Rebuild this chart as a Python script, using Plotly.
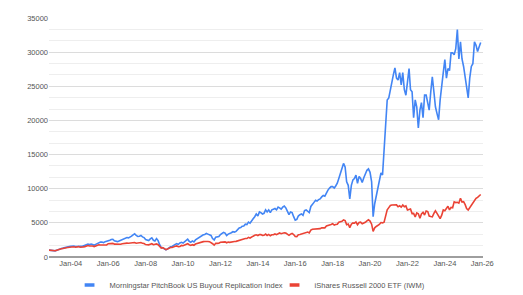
import pandas as pd
import plotly.graph_objects as go

# Monthly dates Nov 2002 .. Dec 2025
dates = pd.date_range("2002-11-01", "2025-12-01", freq="MS")

buyout_index = [
    1000, 960,
    920, 890, 900, 1000, 1120, 1200, 1250, 1300, 1330, 1420, 1460, 1520,
    1580, 1620, 1600, 1530, 1560, 1640, 1560, 1550, 1620, 1680, 1820, 1880,
    1820, 1900, 1840, 1720, 1850, 1950, 2150, 2200, 2180, 2100, 2250, 2280,
    2400, 2450, 2550, 2600, 2380, 2300, 2250, 2350, 2450, 2600, 2750, 2800,
    2850, 2800, 2900, 3050, 3250, 3400, 3150, 3000, 3050, 3150, 2950, 2850,
    2550, 2450, 2400, 2650, 2800, 2450, 2350, 2700, 2400, 1800, 1400, 1350,
    1200, 1050, 1150, 1400, 1500, 1550, 1750, 1850, 1950, 1850, 2050, 2150,
    2050, 2200, 2450, 2600, 2300, 2150, 2350, 2200, 2500, 2650, 2750, 3000,
    3100, 3250, 3300, 3450, 3350, 3250, 3150, 2700, 2500, 2900, 2900, 3000,
    3300, 3500, 3600, 3500, 3150, 3350, 3400, 3550, 3700, 3650, 3750, 4000,
    4250, 4300, 4500, 4550, 4800, 4750, 5100, 4950, 5400, 5600, 5900, 6300,
    6000, 6600, 6500, 6300, 6400, 6900, 6600, 6900, 6500, 6900, 7000, 7100,
    6900, 7300, 7200, 7000, 7300, 7450, 7200, 6600, 6200, 6600, 6500, 5900,
    5400, 5500, 6000, 6200, 6300, 6100, 6800, 6900, 6700, 6500, 7400, 7800,
    8000, 8300, 8200, 8400, 8500, 8800, 9000, 8900, 9400, 9800, 10100, 10300,
    10300, 10100, 10400, 10800, 11500, 12200, 12800, 13700, 13200, 11000, 10500, 8500,
    10500, 11300, 11500, 12000, 10800, 11800, 11500, 10900, 11600, 12300, 12700, 12900,
    12400, 11000, 5900, 7800, 8800, 9800, 10800, 12300, 12000, 15500, 18500, 23000,
    23300, 24500, 26000, 26700, 27700, 26200, 25900, 27000, 25200, 27000, 24500, 23700,
    25600, 27600, 24500, 24200, 20400, 23000, 22000, 18900, 21500, 22600, 20400, 23700,
    23700, 22300, 21500, 24200, 26400, 24200, 22000, 21000, 20100, 23000, 25600, 27000,
    28900, 26200, 27600, 27300, 29900, 29900, 29600, 30500, 33300, 29000, 31500, 29000,
    27900, 26500, 24800, 23300, 26200, 27900, 28300, 31500, 31000, 30100, 30800, 31400,
]

iwm = [
    1000, 960,
    930, 900, 910, 1000, 1100, 1150, 1200, 1250, 1250, 1350, 1380, 1420,
    1470, 1480, 1500, 1430, 1460, 1520, 1430, 1420, 1480, 1520, 1650, 1680,
    1600, 1650, 1600, 1520, 1620, 1680, 1780, 1750, 1760, 1700, 1780, 1770,
    1950, 1950, 2000, 2000, 1880, 1880, 1820, 1850, 1860, 1940, 2000, 2000,
    2030, 2020, 2030, 2080, 2150, 2120, 2020, 2050, 2080, 2120, 2000, 1970,
    1820, 1770, 1780, 1860, 1940, 1800, 1850, 1920, 1800, 1460, 1300, 1370,
    1220, 1070, 1170, 1350, 1390, 1400, 1520, 1560, 1620, 1500, 1550, 1700,
    1650, 1720, 1850, 1950, 1800, 1700, 1800, 1720, 1900, 1990, 2060, 2150,
    2150, 2250, 2280, 2330, 2280, 2240, 2150, 1940, 1730, 2000, 2000, 2020,
    2150, 2200, 2250, 2220, 2080, 2180, 2150, 2220, 2300, 2270, 2290, 2350,
    2500, 2530, 2630, 2600, 2700, 2700, 2880, 2780, 2980, 3050, 3170, 3250,
    3150, 3300, 3280, 3160, 3180, 3360, 3160, 3310, 3110, 3250, 3260, 3380,
    3270, 3460, 3520, 3420, 3500, 3540, 3500, 3330, 3170, 3350, 3450, 3300,
    3000, 2980, 3250, 3300, 3370, 3390, 3570, 3620, 3650, 3520, 3930, 4060,
    4080, 4160, 4150, 4200, 4150, 4290, 4320, 4270, 4540, 4590, 4730, 4750,
    4870, 4680, 4750, 4800, 5100, 5140, 5230, 5440, 5330, 4740, 4830, 4300,
    4800, 5000, 4950, 5120, 4720, 5060, 5110, 4860, 4950, 5080, 5280, 5440,
    5260, 4810, 3760, 4270, 4470, 4590, 4760, 5040, 5000, 5110, 6050, 6900,
    7230, 7550, 7620, 7640, 7680, 7630, 7350, 7500, 7300, 7610, 7370, 7480,
    6890, 6960, 7020, 6360, 6380, 5850, 6460, 6330, 5680, 6300, 6540, 6150,
    6730, 6650, 6000, 5930, 5890, 6380, 6760, 6400, 6020, 5610, 6130, 6890,
    6770, 7180, 7440, 6900, 7270, 7210, 8070, 7970, 8020, 7890, 8600, 8060,
    8110, 7670, 7100, 6880, 7240, 7600, 7780, 8330, 8590, 8740, 9020, 9150,
]

series_names = ["Morningstar PitchBook US Buyout Replication Index",
                "iShares Russell 2000 ETF (IWM)"]
colors = ["#4285F4", "#EA4335"]

fig = go.Figure()
for name, vals, col in zip(series_names, [buyout_index, iwm], colors):
    fig.add_trace(go.Scatter(x=dates, y=vals, mode="lines", name=name,
                             line=dict(color=col, width=1.6), showlegend=False))
    # legend-only entry with a short line marker
    fig.add_trace(go.Scatter(x=[None], y=[None], mode="markers", name=name,
                             marker=dict(symbol="line-ew-open", size=7, color=col,
                                         line=dict(color=col, width=3.5)),
                             showlegend=True))

font = dict(family="Liberation Sans, Arial, sans-serif", size=7.5, color="#555555")

fig.update_layout(
    width=523, height=295,
    margin=dict(l=49, r=40, t=18, b=38, autoexpand=False),
    paper_bgcolor="white", plot_bgcolor="white",
    font=font,
    legend=dict(orientation="h", xref="container", yref="container",
                x=0.133, xanchor="left", y=0.034, yanchor="middle",
                font=dict(size=7.5, color="#555555"),
                itemwidth=30, tracegroupgap=0, bgcolor="rgba(0,0,0,0)",
                entrywidth=160, entrywidthmode="pixels"),
    xaxis=dict(range=["2002-11-01", "2026-01-15"], tickformat="%b-%y",
               tickvals=pd.date_range("2004-01-01", "2026-01-01", freq="24MS"),
               showgrid=False, zeroline=False, showline=False, ticks="",
               tickfont=font),
    yaxis=dict(range=[0, 35000], dtick=5000, tickformat="d",
               showgrid=True, gridcolor="#dcdcdc", gridwidth=1,
               minor=dict(dtick=5000 / 3, showgrid=True, gridcolor="#eeeeee", gridwidth=1),
               zeroline=True, zerolinecolor="#9e9e9e", zerolinewidth=1.5,
               showline=False, ticks="", tickfont=font),
)

fig.write_html("out.html")
